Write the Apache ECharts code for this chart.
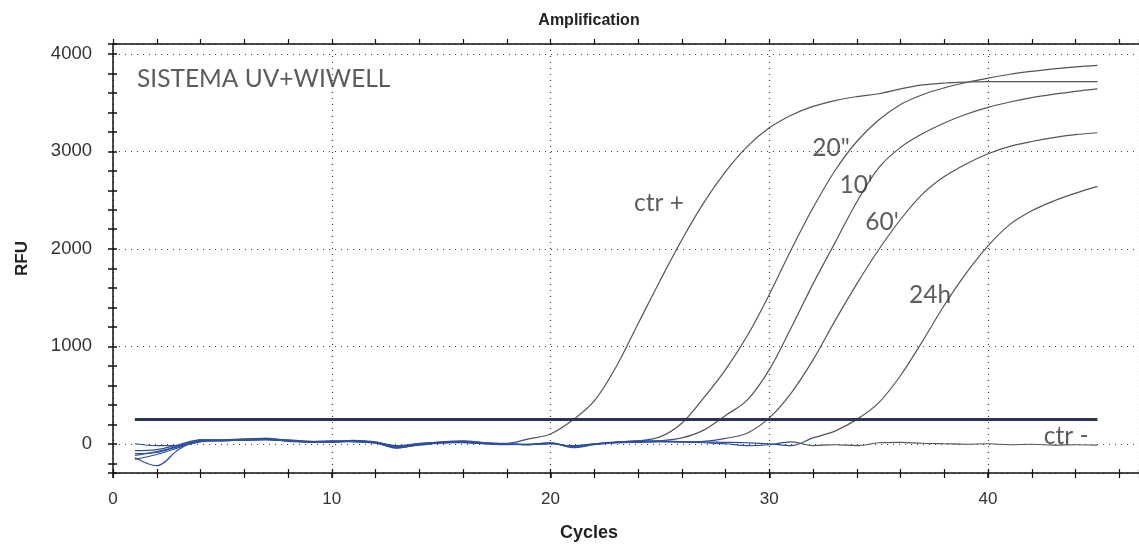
<!DOCTYPE html>
<html>
<head>
<meta charset="utf-8">
<title>Amplification</title>
<script src="https://cdn.jsdelivr.net/npm/echarts@6/dist/echarts.min.js"></script>
<style>
  html, body { margin: 0; padding: 0; background: #fff; }
  #main { width: 1139px; height: 546px; }
</style>
</head>
<body>
<div id="main"></div>
<script>
// cycles of the run
const cycles = [1, 2, 3, 4, 5, 6, 7, 8, 9, 10, 11, 12, 13, 14, 15, 16, 17, 18, 19, 20,
  21, 22, 23, 24, 25, 26, 27, 28, 29, 30, 31, 32, 33, 34, 35, 36, 37, 38, 39, 40,
  41, 42, 43, 44, 45];

// RFU, one value per cycle
const ctrPos = [-70, -60, -10, 40, 35, 40, 45, 30, 20, 25, 30, 15, -20, 0, 10, 25, 5, 5, 50, 100,
  240, 440, 790, 1230, 1670, 2090, 2470, 2790, 3050, 3240, 3370, 3460, 3520, 3560, 3590, 3640, 3680, 3700, 3710, 3715,
  3715, 3715, 3715, 3715, 3715];
const s20 = [-120, -80, -30, 30, 40, 50, 55, 35, 15, 20, 25, 10, -40, -10, 5, 20, 10, -5, -10, 0,
  -30, 0, 15, 30, 70, 210, 470, 760, 1110, 1530, 1990, 2420, 2800, 3100, 3320, 3480, 3580, 3650, 3705, 3750,
  3790, 3820, 3845, 3865, 3880];
const m10 = [0, -20, -20, 20, 35, 45, 50, 40, 25, 15, 30, 20, -30, -15, 10, 15, 0, -10, -5, 10,
  -40, -10, 10, 20, 30, 60, 140, 290, 450, 760, 1190, 1640, 2060, 2480, 2830, 3040, 3180, 3290, 3380, 3450,
  3505, 3550, 3585, 3615, 3640];
const m60 = [-160, -110, -40, 25, 30, 40, 45, 35, 20, 20, 25, 5, -35, -5, 15, 10, 0, -5, -10, 5,
  -25, -5, 10, 15, 20, 20, 25, 55, 110, 265, 520, 860, 1260, 1640, 1990, 2300, 2560, 2740, 2870, 2975,
  3050, 3100, 3140, 3170, 3190];
const h24 = [-100, -90, -20, 35, 40, 35, 40, 30, 25, 30, 20, 10, -25, 5, 15, 25, 5, 0, -10, 0,
  -20, 0, 20, 25, 25, 20, 20, 15, 10, 0, -20, 60, 130, 250, 420, 700, 1050, 1420, 1750, 2030,
  2250, 2390, 2490, 2570, 2640];
const ctrNeg = [-140, -225, -60, 40, 30, 40, 55, 25, 20, 25, 35, 10, -45, -5, 20, 30, 10, 0, -5, 10,
  -30, -5, 15, 30, 30, 20, 10, 0, -20, -10, 20, -20, -10, -20, 10, 15, 5, 0, -5, 0,
  -10, -5, -15, -10, -15];

const threshold = 250;
const thresholdSpan = [1, 45];

// hand written notes on the plot
const notes = [
  { text: 'SISTEMA UV+WIWELL', at: [1.1, 3742], left: true },
  { text: 'ctr +', at: [24.96, 2464] },
  { text: '20"', at: [32.82, 3031] },
  { text: "10'", at: [33.97, 2649] },
  { text: "60'", at: [35.15, 2278] },
  { text: '24h', at: [37.35, 1526] },
  { text: 'ctr -', at: [43.57, 75] }
];

const amplified = [ctrPos, s20, m10, m60, h24];
const axisFont = 'Liberation Sans, Arial, sans-serif';
const noteFont = 'Lato, Open Sans, sans-serif';
const blue = '#2f4f9c';
const gray = '#555';

function pairs(vals) {
  return cycles.map((c, i) => [c, vals[i]]);
}

// curves look blue where they sit in the baseline band, gray above it
function bandColor(vals) {
  const hi = Math.max.apply(null, vals), lo = Math.min.apply(null, vals);
  const f = (hi - 70) / (hi - lo);
  return new echarts.graphic.LinearGradient(0, 0, 0, 1, [
    { offset: 0, color: gray }, { offset: f, color: gray },
    { offset: f, color: blue }, { offset: 1, color: blue }
  ]);
}

const series = amplified.map(vals => ({
  type: 'line',
  data: pairs(vals),
  smooth: 0.35,
  showSymbol: false,
  lineStyle: { width: 1.2, color: bandColor(vals) },
  z: 3
}));

const negStop = (31 - cycles[0]) / (cycles[cycles.length - 1] - cycles[0]);
series.push({
  type: 'line',
  data: pairs(ctrNeg),
  smooth: 0.35,
  showSymbol: false,
  lineStyle: {
    width: 1.2,
    color: new echarts.graphic.LinearGradient(0, 0, 1, 0, [
      { offset: 0, color: blue }, { offset: negStop, color: blue },
      { offset: negStop, color: gray }, { offset: 1, color: gray }
    ])
  },
  z: 3
});

series.push({
  type: 'line',
  data: thresholdSpan.map(c => [c, threshold]),
  showSymbol: false,
  lineStyle: { color: '#2b3550', width: 3 },
  z: 4
});

series.push({
  type: 'scatter',
  symbolSize: 0,
  data: notes.map(n => ({
    name: n.text,
    value: n.at,
    label: n.left ? { position: 'right', distance: 0 } : { position: 'inside' }
  })),
  label: {
    show: true,
    formatter: '{b}',
    color: '#333',
    fontFamily: noteFont,
    fontSize: 24.5
  },
  z: 5
});

var myChart = echarts.init(document.getElementById('main'));

const plain = v => String(v);

const option = {
  animation: false,
  backgroundColor: '#fff',
  title: [
    {
      text: 'Amplification',
      left: 584, top: 8, textAlign: 'center',
      textStyle: { fontFamily: axisFont, fontWeight: 'bold', fontSize: 16, color: '#222' }
    },
    {
      text: 'Cycles',
      left: 584, top: 519, textAlign: 'center',
      textStyle: { fontFamily: axisFont, fontWeight: 'bold', fontSize: 18, color: '#222' }
    }
  ],
  grid: { left: 113, top: 44, bottom: 73, right: 0 },
  xAxis: [
    {
      type: 'value', min: 0, max: 46.9, interval: 10, position: 'bottom',
      axisLine: { onZero: false, lineStyle: { color: '#111', width: 1.5 } },
      axisTick: { show: true, length: 5, lineStyle: { color: '#111', width: 1.5 } },
      axisLabel: { margin: 18, fontFamily: axisFont, fontSize: 17, color: '#333', formatter: plain, showMaxLabel: false },
      splitLine: { show: true, lineStyle: { color: '#444', type: [1, 5], width: 1.2 } }
    },
    {
      type: 'value', min: 0, max: 46.9, interval: 2, position: 'bottom',
      axisLine: { show: false, onZero: false },
      axisTick: { show: true, length: 5, lineStyle: { color: '#111', width: 1.2 } },
      axisLabel: { show: false },
      splitLine: { show: false }
    },
    {
      type: 'value', min: 0, max: 46.9, interval: 2, position: 'bottom',
      axisLine: { show: false, onZero: false },
      axisTick: { show: true, inside: true, length: 4, lineStyle: { color: '#111', width: 1.2 } },
      axisLabel: { show: false },
      splitLine: { show: false }
    },
    {
      type: 'value', min: 0, max: 46.9, interval: 2, position: 'top',
      axisLine: { show: true, onZero: false, lineStyle: { color: '#111', width: 1.5 } },
      axisTick: { show: true, length: 5, lineStyle: { color: '#111', width: 1.2 } },
      axisLabel: { show: false },
      splitLine: { show: false }
    }
  ],
  yAxis: [
    {
      type: 'value', min: -300, max: 4100, splitNumber: 4, position: 'left',
      name: 'RFU', nameLocation: 'middle', nameGap: 82,
      nameTextStyle: { fontFamily: axisFont, fontWeight: 'bold', fontSize: 17, color: '#222' },
      axisLine: { show: true, onZero: false, lineStyle: { color: '#111', width: 1.5 } },
      axisTick: { show: false },
      axisLabel: { margin: 21, fontFamily: axisFont, fontSize: 18.5, color: '#333', formatter: plain, showMinLabel: false, showMaxLabel: false },
      splitLine: { show: true, lineStyle: { color: '#444', type: [1, 5], width: 1.2 } }
    },
    {
      type: 'value', min: -300, max: 4100, splitNumber: 22, position: 'left',
      axisLine: { show: false, onZero: false },
      axisTick: { show: true, length: 5, lineStyle: { color: '#111', width: 1.5 } },
      axisLabel: { show: false },
      splitLine: { show: false }
    },
    {
      type: 'value', min: -300, max: 4100, splitNumber: 22, position: 'left',
      axisLine: { show: false, onZero: false },
      axisTick: { show: true, inside: true, length: 4, lineStyle: { color: '#111', width: 1.5 } },
      axisLabel: { show: false },
      splitLine: { show: false }
    }
  ],
  series: series
};

myChart.setOption(option);
</script>
</body>
</html>
